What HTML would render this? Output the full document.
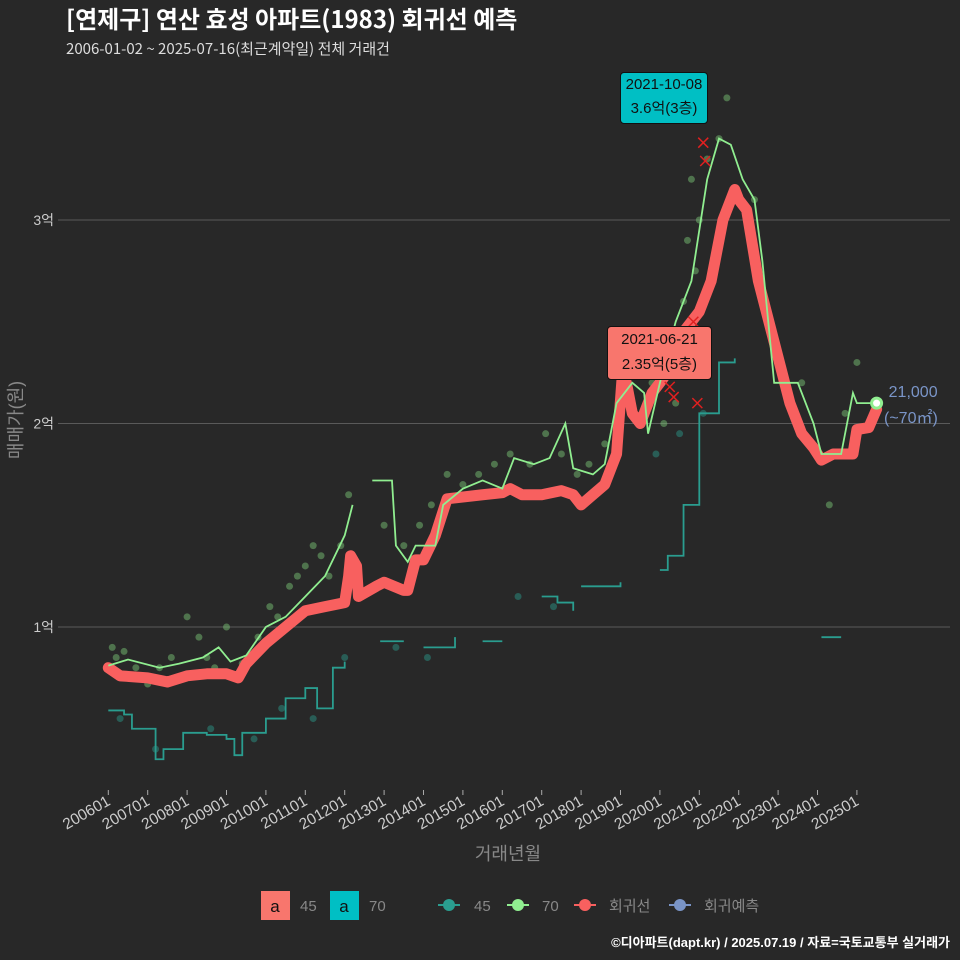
<!DOCTYPE html>
<html><head><meta charset="utf-8"><style>
html,body{margin:0;padding:0;background:#282828;}
svg{display:block;font-family:"Liberation Sans","Noto Sans CJK KR",sans-serif;}
</style></head><body>
<svg id="c" width="960" height="960" viewBox="0 0 960 960">
<rect width="960" height="960" fill="#282828"/>
<text x="66" y="28" fill="#ffffff" font-size="24" font-weight="bold" font-family="Noto Sans CJK KR, sans-serif">[연제구] 연산 효성 아파트(1983) 회귀선 예측</text>
<text x="66" y="54" fill="#dddddd" font-size="15" font-family="Noto Sans CJK KR, sans-serif">2006-01-02 ~ 2025-07-16(최근계약일) 전체 거래건</text>
<g id="grid"></g><g id="marks"></g><g id="axes"></g>
<text x="22" y="420" fill="#888" font-size="18" transform="rotate(-90 22 420)" text-anchor="middle">매매가(원)</text>
<text x="508" y="860" fill="#888" font-size="18" text-anchor="middle">거래년월</text>
<g font-size="15">
<rect x="261" y="891" width="29" height="29" fill="#f8766d"/><text x="275" y="912" font-size="17" text-anchor="middle" fill="#111">a</text>
<text x="300" y="911" fill="#888">45</text>
<rect x="330" y="891" width="29" height="29" fill="#00bfc4"/><text x="344" y="912" font-size="17" text-anchor="middle" fill="#111">a</text>
<text x="369" y="911" fill="#888">70</text>
<line x1="438" y1="905" x2="460" y2="905" stroke="#2a9d8f" stroke-width="2"/><circle cx="449" cy="905" r="6" fill="#2a9d8f"/>
<text x="474" y="911" fill="#888">45</text>
<line x1="507" y1="905" x2="529" y2="905" stroke="#90ee90" stroke-width="2"/><circle cx="518" cy="905" r="6" fill="#90ee90"/>
<text x="542" y="911" fill="#888">70</text>
<line x1="574" y1="905" x2="596" y2="905" stroke="#f8605f" stroke-width="2"/><circle cx="585" cy="905" r="6" fill="#f8605f"/>
<text x="609" y="911" fill="#888">회귀선</text>
<line x1="669" y1="905" x2="691" y2="905" stroke="#7a95c8" stroke-width="2"/><circle cx="680" cy="905" r="6" fill="#7a95c8"/>
<text x="704" y="911" fill="#888">회귀예측</text>
</g>
<text x="950" y="947" fill="#fff" font-size="13" font-weight="bold" text-anchor="end">©디아파트(dapt.kr) / 2025.07.19 / 자료=국토교통부 실거래가</text>
</svg>
<script>
const yTicks=[1,2,3];
const yLabels=["1억","2억","3억"];
const xTickYears=[2006,2007,2008,2009,2010,2011,2012,2013,2014,2015,2016,2017,2018,2019,2020,2021,2022,2023,2024,2025];
const regT=[2006.0,2006.3,2007.0,2007.5,2008.0,2008.5,2009.0,2009.3,2009.5,2010.0,2010.5,2011.0,2011.5,2012.0,2012.1,2012.15,2012.3,2012.35,2012.8,2013.0,2013.5,2013.6,2013.8,2014.0,2014.3,2014.6,2015.5,2016.0,2016.2,2016.5,2017.0,2017.5,2017.8,2018.0,2018.3,2018.6,2018.9,2019.05,2019.15,2019.3,2019.5,2019.8,2020.0,2020.3,2020.6,2021.0,2021.3,2021.6,2021.9,2022.0,2022.2,2022.5,2022.9,2023.3,2023.6,2023.9,2024.1,2024.4,2024.9,2025.0,2025.3,2025.5];
const regV=[0.80,0.76,0.75,0.73,0.76,0.77,0.77,0.75,0.82,0.92,1.00,1.08,1.10,1.12,1.25,1.35,1.30,1.15,1.20,1.22,1.18,1.18,1.33,1.33,1.45,1.63,1.65,1.66,1.68,1.65,1.65,1.67,1.65,1.60,1.65,1.70,1.85,2.25,2.20,2.05,2.00,2.15,2.20,2.28,2.45,2.55,2.70,3.00,3.15,3.10,3.05,2.70,2.40,2.10,1.95,1.88,1.82,1.85,1.85,1.97,1.98,2.07];
const g70T=[2006.0,2006.5,2007.3,2007.8,2008.4,2008.8,2009.1,2009.5,2010.0,2010.5,2011.0,2011.5,2012.0,2012.2,null,2012.7,2013.2,2013.3,2013.6,2013.8,2014.3,2014.5,2015.0,2015.5,2016.0,2016.3,2016.8,2017.2,2017.6,2017.8,2018.3,2018.6,2018.9,2019.3,2019.6,2019.7,2020.0,2020.4,2020.8,2021.2,2021.5,2021.8,2022.1,2022.4,2022.6,2022.9,2023.5,2023.9,2024.1,2024.6,2024.9,2025.0,2025.5];
const g70V=[0.81,0.84,0.80,0.82,0.85,0.90,0.83,0.86,1.00,1.05,1.15,1.25,1.45,1.60,null,1.72,1.72,1.40,1.32,1.40,1.40,1.60,1.68,1.72,1.68,1.83,1.80,1.83,2.00,1.78,1.75,1.80,2.10,2.20,2.15,1.95,2.20,2.50,2.70,3.20,3.40,3.37,3.20,3.10,2.80,2.20,2.20,2.00,1.85,1.85,2.15,2.10,2.10];
const g45T=[2006.0,2006.4,2006.6,2007.2,2007.4,2007.9,2008.5,2009.0,2009.2,2009.4,2010.0,2010.5,2011.0,2011.3,2011.7,2012.0,null,2012.9,2013.5,null,2014.0,2014.8,null,2015.5,2016.0,null,2017.0,2017.4,2017.8,null,2018.0,2019.0,null,2020.0,2020.2,2020.6,2021.0,2021.5,2021.9,null,2024.1,2024.6];
const g45V=[0.59,0.57,0.50,0.35,0.40,0.48,0.47,0.45,0.37,0.48,0.55,0.65,0.70,0.60,0.80,0.83,null,0.93,0.93,null,0.90,0.95,null,0.93,0.93,null,1.15,1.12,1.08,null,1.20,1.22,null,1.28,1.35,1.60,2.05,2.30,2.32,null,0.95,0.95];
const ptT=[2006.1,2006.2,2006.4,2006.7,2007.0,2007.3,2007.6,2008.0,2008.3,2008.5,2008.7,2009.0,2009.4,2009.8,2010.1,2010.3,2010.6,2010.8,2011.0,2011.2,2011.4,2011.6,2011.9,2012.1,2013.0,2013.5,2013.9,2014.2,2014.6,2015.0,2015.4,2015.8,2016.2,2016.7,2017.1,2017.5,2017.9,2018.2,2018.6,2019.0,2019.4,2019.8,2020.1,2020.4,2020.6,2020.7,2020.8,2020.9,2021.0,2021.2,2021.5,2021.7,2022.4,2023.6,2024.3,2024.7,2025.0,2006.3,2007.2,2008.6,2009.7,2010.4,2011.2,2012.0,2013.3,2014.1,2016.4,2017.3,2019.9,2020.5,2021.1];
const ptV=[0.90,0.85,0.88,0.80,0.72,0.80,0.85,1.05,0.95,0.85,0.80,1.00,0.82,0.95,1.10,1.05,1.20,1.25,1.30,1.40,1.35,1.25,1.40,1.65,1.50,1.40,1.50,1.60,1.75,1.70,1.75,1.80,1.85,1.80,1.95,1.85,1.75,1.80,1.90,2.20,2.30,2.20,2.00,2.10,2.60,2.90,3.20,2.75,3.00,3.30,3.40,3.60,3.10,2.20,1.60,2.05,2.30,0.55,0.40,0.50,0.45,0.60,0.55,0.85,0.90,0.85,1.15,1.10,1.85,1.95,2.05];
const xsT=[2021.1,2021.15,2020.25,2020.35,2020.95,2020.85];
const xsV=[3.38,3.29,2.18,2.13,2.10,2.50];
const NS='http://www.w3.org/2000/svg';
function X(t){return 108.3+39.4*(t-2006);}
function Y(v){return 830.5-203.5*v;}
function mk(tag,attrs,parent){const e=document.createElementNS(NS,tag);for(const k in attrs)e.setAttribute(k,attrs[k]);parent.appendChild(e);return e;}
const grid=document.getElementById('grid'),marks=document.getElementById('marks'),axes=document.getElementById('axes');
yTicks.forEach((v,i)=>{
 const l=mk('line',{x1:58,x2:950,y1:Y(v),y2:Y(v),stroke:'#5a5a5a','stroke-width':1},grid);
 
 
 const t=mk('text',{x:54,y:Y(v)+5,fill:'#ccc','font-size':14,'text-anchor':'end'},axes);
 t.textContent=yLabels[i];
 
 
});
xTickYears.forEach(yr=>{
 const x=X(yr);
 mk('line',{x1:x,x2:x,y1:790,y2:795,stroke:'#aaa'},axes);
 const t=mk('text',{x:x+3,y:804,fill:'#ccc','font-size':15.5,'text-anchor':'end',transform:`rotate(-30 ${x+3} 804)`},axes);
 t.textContent=yr+'01';
 
 
});
function path(T,V,step){let d='',pen=false;for(let i=0;i<T.length;i++){if(T[i]===null){pen=false;continue;}const x=X(T[i]),y=Y(V[i]);if(!pen){d+=`M${x},${y}`;pen=true;}else{d+=step?`H${x}V${y}`:`L${x},${y}`;}}return d;}
ptT.forEach((t,i)=>{
 const c=mk('circle',{cx:X(t),cy:Y(ptV[i]),r:3.5,fill:i>=57?'#2a9d8f':'#7fcf7a','fill-opacity':0.45},marks);
 
 
});
const p45=mk('path',{d:path(g45T,g45V,true),fill:'none',stroke:'#2a9d8f','stroke-width':1.8},marks);


const reg=mk('path',{d:path(regT,regV,false),fill:'none',stroke:'#f8605f','stroke-width':11,'stroke-linejoin':'round','stroke-linecap':'round'},marks);


const p70=mk('path',{d:path(g70T,g70V,false),fill:'none',stroke:'#90ee90','stroke-width':1.8},marks);


xsT.forEach((t,i)=>{
 const x=X(t),y=Y(xsV[i]);
 const m=mk('path',{d:`M${x-5},${y-5}L${x+5},${y+5}M${x-5},${y+5}L${x+5},${y-5}`,stroke:'#e02020','stroke-width':1.5},marks);
 
 
});
const ep=mk('circle',{cx:X(2025.5),cy:Y(2.10),r:5,fill:'#fff',stroke:'#90ee90','stroke-width':3},marks);


</script>
<div style="position:absolute;left:620px;top:72px;width:86px;height:50px;background:#00bfc4;border:1px solid #111;border-radius:4px;font:15px 'Liberation Sans','Noto Sans CJK KR',sans-serif;color:#111;text-align:center;line-height:24px;">2021-10-08<br>3.6억(3층)</div>
<div style="position:absolute;left:607px;top:326px;width:103px;height:52px;background:#f8766d;border:1px solid #111;border-radius:4px;font:15px 'Liberation Sans','Noto Sans CJK KR',sans-serif;color:#111;text-align:center;line-height:25px;">2021-06-21<br>2.35억(5층)</div>
<div style="position:absolute;left:884px;top:380px;font:16px 'Liberation Sans','Noto Sans CJK KR',sans-serif;color:#7a95c8;line-height:26px;text-align:center;">&nbsp;21,000<br>(~70㎡)</div>
</body></html>
